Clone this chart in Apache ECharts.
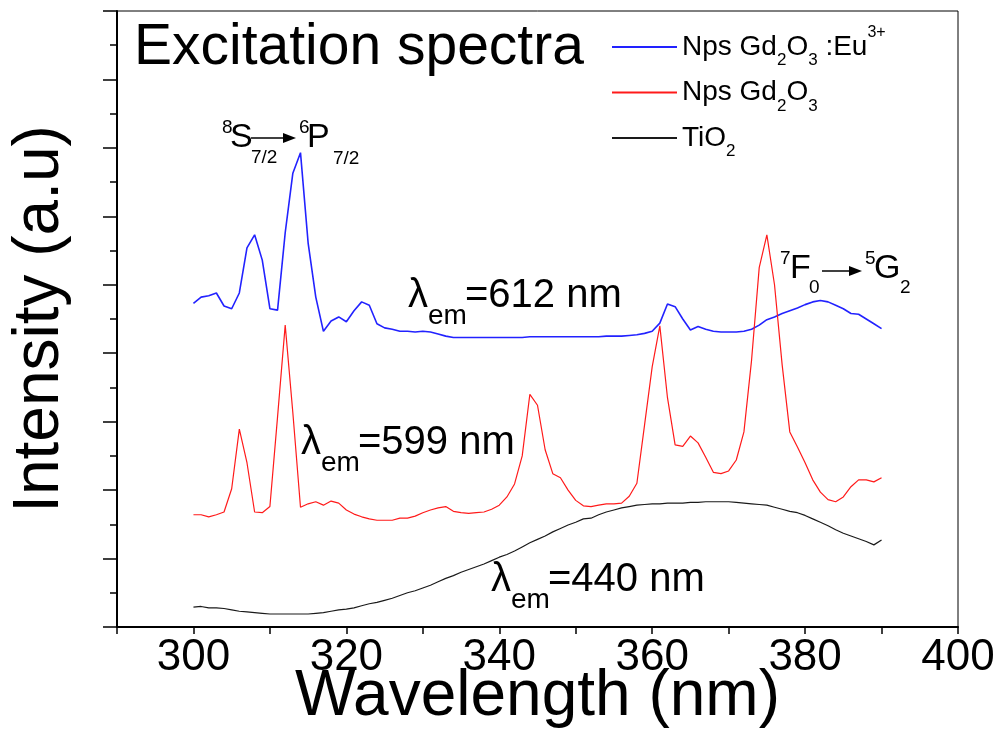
<!DOCTYPE html>
<html>
<head>
<meta charset="utf-8">
<script src="https://cdn.jsdelivr.net/npm/echarts@6/dist/echarts.min.js"></script>
<style>
  html, body { margin: 0; background: #fff; }
  #chart { width: 999px; height: 736px; }
</style>
</head>
<body>
<div id="chart"></div>
<script>
// wavelength axis (nm)
const wavelengths = [
  300, 301, 302, 303, 304, 305, 306, 307, 308, 309,
  310, 311, 312, 313, 314, 315, 316, 317, 318, 319,
  320, 321, 322, 323, 324, 325, 326, 327, 328, 329,
  330, 331, 332, 333, 334, 335, 336, 337, 338, 339,
  340, 341, 342, 343, 344, 345, 346, 347, 348, 349,
  350, 351, 352, 353, 354, 355, 356, 357, 358, 359,
  360, 361, 362, 363, 364, 365, 366, 367, 368, 369,
  370, 371, 372, 373, 374, 375, 376, 377, 378, 379,
  380, 381, 382, 383, 384, 385, 386, 387, 388, 389,
  390
]

// Nps Gd2O3:Eu3+ (λem = 612 nm)
const gdEu = [
  4.73, 4.82, 4.84, 4.88, 4.69, 4.65, 4.88, 5.54, 5.73, 5.36,
  4.65, 4.63, 5.76, 6.63, 6.93, 5.61, 4.82, 4.32, 4.47, 4.53,
  4.46, 4.62, 4.75, 4.70, 4.43, 4.37, 4.35, 4.32, 4.32, 4.31,
  4.32, 4.31, 4.28, 4.25, 4.23, 4.23, 4.23, 4.23, 4.23, 4.23,
  4.23, 4.23, 4.23, 4.23, 4.24, 4.24, 4.24, 4.24, 4.24, 4.24,
  4.24, 4.24, 4.24, 4.24, 4.25, 4.25, 4.25, 4.26, 4.27, 4.29,
  4.32, 4.44, 4.72, 4.68, 4.50, 4.34, 4.39, 4.35, 4.32, 4.31,
  4.31, 4.31, 4.32, 4.35, 4.41, 4.49, 4.53, 4.58, 4.62, 4.66,
  4.71, 4.75, 4.77, 4.75, 4.70, 4.65, 4.58, 4.57, 4.50, 4.43,
  4.36
]

// Nps Gd2O3 (λem = 599 nm)
const gd = [
  1.64, 1.64, 1.61, 1.64, 1.68, 2.02, 2.89, 2.40, 1.68, 1.67,
  1.76, 3.07, 4.41, 3.13, 1.75, 1.80, 1.83, 1.78, 1.84, 1.81,
  1.71, 1.65, 1.61, 1.58, 1.56, 1.56, 1.56, 1.59, 1.59, 1.62,
  1.67, 1.71, 1.74, 1.76, 1.69, 1.67, 1.66, 1.67, 1.68, 1.72,
  1.78, 1.90, 2.09, 2.50, 3.40, 3.24, 2.59, 2.24, 2.18, 2.00,
  1.85, 1.77, 1.76, 1.78, 1.80, 1.80, 1.81, 1.91, 2.10, 2.95,
  3.80, 4.40, 3.35, 2.66, 2.64, 2.79, 2.69, 2.48, 2.26, 2.24,
  2.28, 2.44, 2.85, 3.90, 5.25, 5.73, 5.00, 3.83, 2.85, 2.63,
  2.40, 2.15, 1.97, 1.86, 1.83, 1.90, 2.05, 2.15, 2.15, 2.12,
  2.18
]

// TiO2 (λem = 440 nm)
const tio2 = [
  0.29, 0.30, 0.28, 0.28, 0.27, 0.25, 0.23, 0.22, 0.21, 0.20,
  0.19, 0.19, 0.19, 0.19, 0.19, 0.19, 0.20, 0.21, 0.23, 0.25,
  0.26, 0.28, 0.31, 0.34, 0.36, 0.39, 0.42, 0.46, 0.50, 0.53,
  0.57, 0.61, 0.66, 0.71, 0.75, 0.80, 0.84, 0.88, 0.92, 0.97,
  1.02, 1.06, 1.11, 1.17, 1.23, 1.28, 1.33, 1.39, 1.44, 1.49,
  1.53, 1.58, 1.59, 1.64, 1.68, 1.71, 1.74, 1.76, 1.78, 1.79,
  1.80, 1.80, 1.81, 1.81, 1.81, 1.82, 1.82, 1.83, 1.83, 1.83,
  1.83, 1.82, 1.81, 1.80, 1.79, 1.78, 1.75, 1.72, 1.69, 1.67,
  1.63, 1.58, 1.53, 1.48, 1.42, 1.37, 1.33, 1.29, 1.25, 1.20,
  1.27
]

const FONT = '"Liberation Sans", Arial, sans-serif'

const pairs = ys => wavelengths.map((x, i) => [x, ys[i]])

// legend labels with sub/superscripts
const legendLabels = {
  eu: '{m|Nps Gd}{b|2}{m|O}{b|3}{m| :Eu}{p|3+}',
  gd: '{m|Nps Gd}{b|2}{m|O}{b|3}',
  ti: '{m|TiO}{b|2}'
}

const legendRich = {
  m: { fontSize: 28, lineHeight: 44, fontFamily: FONT, color: '#000' },
  b: { fontSize: 17, lineHeight: 12, verticalAlign: 'bottom', fontFamily: FONT, color: '#000' },
  p: { fontSize: 16, lineHeight: 27, verticalAlign: 'top', fontFamily: FONT, color: '#000' }
}

// plain text pieces for annotations
const txt = (text, x, y, size) => ({
  type: 'text',
  x: x,
  y: y,
  silent: true,
  style: {
    text: text,
    font: size + 'px ' + FONT,
    fill: '#000',
    align: 'left',
    verticalAlign: 'middle',
    textAlign: 'left',
    textVerticalAlign: 'middle'
  }
})

const arrow = (x1, x2, y) => [
  { type: 'line', silent: true, shape: { x1: x1, y1: y, x2: x2 - 8, y2: y }, style: { stroke: '#000', lineWidth: 1.5 } },
  { type: 'polygon', silent: true, shape: { points: [[x2 - 13, y - 5], [x2, y], [x2 - 13, y + 5]] }, style: { fill: '#000' } }
]

const lambdaLabel = (x, y, rest) => [
  txt('λ', x, y, 40),
  txt('em', x + 20, y + 20, 28),
  txt(rest, x + 57, y, 40)
]

const chart = echarts.init(document.getElementById('chart'))

chart.setOption({
  animation: false,
  backgroundColor: '#fff',
  grid: {
    left: 117, right: 41, top: 11, bottom: 109,
    outerBoundsMode: 'none',
    containLabel: false,
    show: true, borderColor: '#000', borderWidth: 1
  },
  legend: {
    orient: 'vertical',
    left: 612,
    top: 25,
    padding: 0,
    itemGap: 9.5,
    itemWidth: 65,
    itemHeight: 2,
    icon: 'rect',
    data: ['eu', 'gd', 'ti'],
    formatter: name => legendLabels[name],
    textStyle: { rich: legendRich }
  },
  xAxis: {
    type: 'value',
    min: 290,
    max: 400,
    interval: 10,
    name: 'Wavelength (nm)',
    nameLocation: 'middle',
    nameGap: 38,
    nameMoveOverlap: false,
    nameTextStyle: { fontSize: 64, color: '#000', fontFamily: FONT },
    axisLine: { lineStyle: { color: '#000', width: 2 } },
    axisTick: { length: 7, lineStyle: { color: '#000', width: 1.5 } },
    axisLabel: {
      fontSize: 44, color: '#000', fontFamily: FONT, margin: 9,
      showMaxLabel: true, showMinLabel: true,
      formatter: v => (v % 20 === 0 ? String(v) : '')
    },
    splitLine: { show: false }
  },
  yAxis: {
    type: 'value',
    min: 0,
    max: 9,
    interval: 1,
    name: 'Intensity (a.u)',
    nameLocation: 'middle',
    nameGap: 45,
    nameMoveOverlap: false,
    nameTextStyle: { fontSize: 64, color: '#000', fontFamily: FONT },
    axisLine: { show: true, lineStyle: { color: '#000', width: 2 } },
    axisTick: { show: true, length: 14, lineStyle: { color: '#000', width: 1.5 } },
    minorTick: { show: true, splitNumber: 2, length: 7, lineStyle: { color: '#000', width: 1.5 } },
    axisLabel: { show: false },
    splitLine: { show: false }
  },
  series: [
    {
      name: 'eu', type: 'line', data: pairs(gdEu), symbol: 'none',
      lineStyle: { color: '#2222ff', width: 1.6 }, itemStyle: { color: '#2222ff' }
    },
    {
      name: 'gd', type: 'line', data: pairs(gd), symbol: 'none',
      lineStyle: { color: '#ff1a1a', width: 1.2 }, itemStyle: { color: '#ff1a1a' }
    },
    {
      name: 'ti', type: 'line', data: pairs(tio2), symbol: 'none',
      lineStyle: { color: '#1a1a1a', width: 1.2 }, itemStyle: { color: '#1a1a1a' }
    }
  ],
  graphic: [
    txt('Excitation spectra', 134, 48, 57),
    // 8S7/2 -> 6P7/2
    txt('8', 222, 128, 19),
    txt('S', 230, 138, 34),
    txt('7/2', 251, 158, 19),
    ...arrow(251, 296, 138),
    txt('6', 299, 128, 19),
    txt('P', 307, 138, 34),
    txt('7/2', 333, 159, 19),
    // 7F0 -> 5G2
    txt('7', 780, 259, 19),
    txt('F', 790, 269, 34),
    txt('0', 809, 288, 19),
    ...arrow(822, 862, 271),
    txt('5', 865, 259, 19),
    txt('G', 874, 269, 34),
    txt('2', 900, 288, 19),
    ...lambdaLabel(408, 296, '=612 nm'),
    ...lambdaLabel(301, 443, '=599 nm'),
    ...lambdaLabel(491, 580, '=440 nm')
  ]
})
</script>
</body>
</html>
